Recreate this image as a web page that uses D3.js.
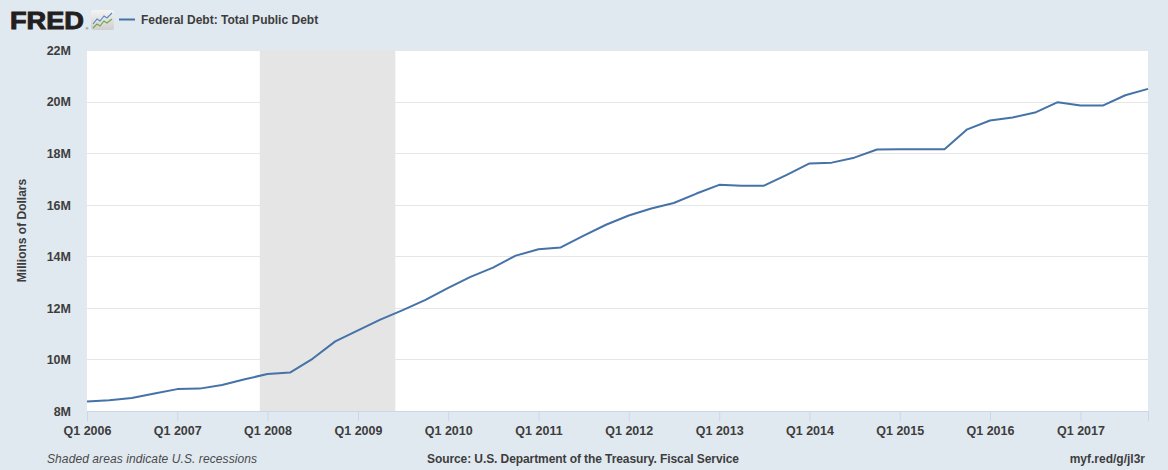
<!DOCTYPE html>
<html>
<head>
<meta charset="utf-8">
<script src="https://cdn.jsdelivr.net/npm/d3@7"></script>
<style>
  body { margin: 0; background: #e1e9f0; }
  svg { display: block; font-family: "Liberation Sans", Arial, sans-serif; }
</style>
</head>
<body>
<svg id="chart"></svg>
<script>
const WIDTH = 1168
const HEIGHT = 470

// quarterly observations, Q1 2006 .. Q4 2017 (millions of dollars)
const quarters = d3.range(2006, 2018).flatMap(y => [0, 3, 6, 9].map(m => new Date(y, m, 1)))
const debt = [
    8371000, 8420000, 8507000, 8680000,
    8849000, 8868000, 9008000, 9229000,
    9437000, 9492000, 10025000, 10700000,
    11127000, 11545000, 11910000, 12311000,
    12773000, 13202000, 13562000, 14025000,
    14270000, 14343000, 14790000, 15223000,
    15582000, 15856000, 16066000, 16433000,
    16771000, 16738000, 16738000, 17159000,
    17601000, 17632000, 17824000, 18141000,
    18152000, 18152000, 18153000, 18922000,
    19264000, 19381000, 19573000, 19977000,
    19846000, 19845000, 20245000, 20493000
]
const yTicks = [8e6, 10e6, 12e6, 14e6, 16e6, 18e6, 20e6, 22e6]
const recessions = [[new Date(2007, 11, 1), new Date(2009, 5, 1)]]

const margin = { top: 50, right: 20, bottom: 59, left: 87 }
const innerW = WIDTH - margin.left - margin.right
const innerH = HEIGHT - margin.top - margin.bottom

const svg = d3.select('#chart')
    .attr('width', WIDTH)
    .attr('height', HEIGHT)

svg.append('rect')
    .attr('width', WIDTH)
    .attr('height', HEIGHT)
    .attr('fill', '#e1e9f0')

const x = d3.scaleTime()
    .domain([quarters[0], quarters[quarters.length - 1]])
    .range([0, innerW])

const y = d3.scaleLinear()
    .domain([8e6, 22e6])
    .range([innerH, 0])

const g = svg.append('g')
    .attr('transform', `translate(${margin.left}, ${margin.top})`)

g.append('rect')
    .attr('width', innerW)
    .attr('height', innerH)
    .attr('fill', '#ffffff')

g.selectAll('.recession')
    .data(recessions)
    .join('rect')
    .attr('class', 'recession')
    .attr('x', d => x(d[0]))
    .attr('width', d => x(d[1]) - x(d[0]))
    .attr('y', 0)
    .attr('height', innerH)
    .attr('fill', '#e5e5e5')

// horizontal grid
g.selectAll('.grid')
    .data(yTicks.slice(1))
    .join('line')
    .attr('class', 'grid')
    .attr('x1', 0)
    .attr('x2', innerW)
    .attr('y1', d => Math.round(y(d)) + 0.5)
    .attr('y2', d => Math.round(y(d)) + 0.5)
    .attr('stroke', '#e6e6e6')
    .attr('stroke-width', 1)

// y axis labels
const yAxis = g.append('g')
    .call(d3.axisLeft(y).tickValues(yTicks).tickSize(0).tickPadding(16)
        .tickFormat(d => (d / 1e6) + 'M'))
yAxis.select('.domain').remove()
yAxis.selectAll('text')
    .attr('font-size', 12.5)
    .attr('font-weight', 'bold')
    .attr('fill', '#3d3d3d')
    .attr('dy', '0.35em')

// x axis
const xAxis = g.append('g')
    .attr('transform', `translate(0, ${innerH})`)
    .call(d3.axisBottom(x)
        .tickValues(d3.range(2006, 2018).map(yr => new Date(yr, 0, 1)))
        .tickSize(10)
        .tickPadding(5)
        .tickFormat(d => 'Q1 ' + d.getFullYear()))
xAxis.select('.domain').attr('stroke', '#ccd6eb')
xAxis.selectAll('.tick line').attr('stroke', '#ccd6eb')
xAxis.selectAll('text')
    .attr('font-size', 12.5)
    .attr('font-weight', 'bold')
    .attr('fill', '#3d3d3d')

const line = d3.line()
    .x((d, i) => x(quarters[i]))
    .y(d => y(d))

g.append('path')
    .datum(debt)
    .attr('d', line)
    .attr('fill', 'none')
    .attr('stroke', '#4572a7')
    .attr('stroke-width', 2)
    .attr('stroke-linejoin', 'round')

// y axis title
svg.append('text')
    .attr('transform', `translate(26, ${margin.top + innerH / 2}) rotate(-90)`)
    .attr('text-anchor', 'middle')
    .attr('font-size', 12)
    .attr('font-weight', 'bold')
    .attr('fill', '#3d3d3d')
    .text('Millions of Dollars')

// header: FRED logo + legend
svg.append('text')
    .attr('x', 10)
    .attr('y', 28.5)
    .attr('font-size', 23)
    .attr('font-weight', 900)
    .attr('stroke', '#231f20')
    .attr('stroke-width', 0.9)
    .attr('textLength', 74)
    .attr('lengthAdjust', 'spacingAndGlyphs')
    .attr('fill', '#231f20')
    .text('FRED')
svg.append('text')
    .attr('x', 85.5)
    .attr('y', 30)
    .attr('font-size', 4)
    .attr('fill', '#231f20')
    .text('®')

const icon = svg.append('g').attr('transform', 'translate(91, 10)')
const grad = svg.append('defs').append('linearGradient')
    .attr('id', 'iconGrad').attr('x1', 0).attr('y1', 0).attr('x2', 0).attr('y2', 1)
grad.append('stop').attr('offset', '0%').attr('stop-color', '#f4f4f4')
grad.append('stop').attr('offset', '100%').attr('stop-color', '#cfcfcf')
icon.append('rect')
    .attr('width', 23).attr('height', 20).attr('rx', 2)
    .attr('fill', 'url(#iconGrad)')
icon.append('path')
    .attr('d', 'M2,14 L6,9 L9,11 L13,6 L16,8 L21,3')
    .attr('fill', 'none').attr('stroke', '#5b8cc0').attr('stroke-width', 1.2)
icon.append('path')
    .attr('d', 'M2,18 L6,14 L9,16 L13,11 L16,13 L21,9')
    .attr('fill', 'none').attr('stroke', '#7aa546').attr('stroke-width', 1.2)

svg.append('line')
    .attr('x1', 119).attr('x2', 135)
    .attr('y1', 19.5).attr('y2', 19.5)
    .attr('stroke', '#4572a7')
    .attr('stroke-width', 2)
svg.append('text')
    .attr('x', 141)
    .attr('y', 24)
    .attr('font-size', 12)
    .attr('font-weight', 'bold')
    .attr('fill', '#3d3d3d')
    .text('Federal Debt: Total Public Debt')

// footer
svg.append('text')
    .attr('x', 47)
    .attr('y', 463)
    .attr('font-size', 12)
    .attr('font-style', 'italic')
    .attr('fill', '#4a4a4a')
    .attr('textLength', 210)
    .text('Shaded areas indicate U.S. recessions')
svg.append('text')
    .attr('x', 583)
    .attr('y', 463)
    .attr('text-anchor', 'middle')
    .attr('font-size', 12)
    .attr('font-weight', 'bold')
    .attr('fill', '#3d3d3d')
    .attr('textLength', 312)
    .text('Source: U.S. Department of the Treasury. Fiscal Service')
svg.append('text')
    .attr('x', 1145)
    .attr('y', 463)
    .attr('text-anchor', 'end')
    .attr('font-size', 12)
    .attr('font-weight', 'bold')
    .attr('fill', '#3d3d3d')
    .text('myf.red/g/jl3r')
</script>
</body>
</html>
